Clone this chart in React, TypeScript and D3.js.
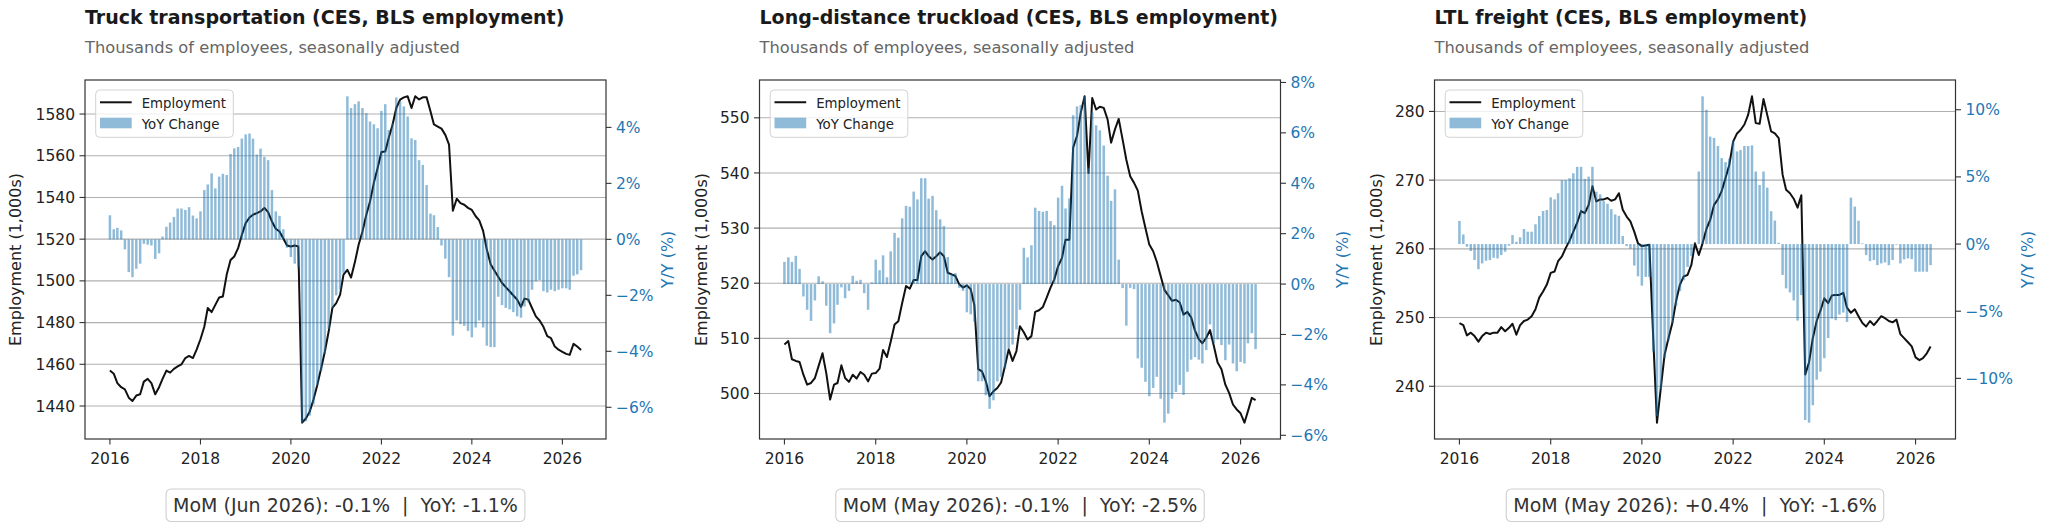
import { useEffect, useRef } from 'react'
import * as d3 from 'd3'

// monthly series, first point = Jan 2016
const START = new Date(2016, 0, 1)

const TRUCK_EMP = [
  1457, 1455.5, 1451, 1449, 1448, 1444, 1442.4, 1445, 1445.6, 1451.7, 1453, 1451,
  1445.6, 1449, 1453, 1457, 1456, 1457.8, 1459, 1460, 1463, 1464, 1463, 1467,
  1472, 1478, 1487, 1485, 1488.5, 1492, 1492.5, 1503, 1510, 1511.7, 1515.7, 1522,
  1527.7, 1530.4, 1531.7, 1532.5, 1533.3, 1535, 1533, 1528.5, 1525, 1523.7, 1520.3, 1517,
  1516.5, 1517, 1516.5, 1432, 1434, 1437.3, 1443, 1450, 1458, 1466, 1475.7, 1487,
  1489.3, 1493.3, 1503, 1505.3, 1501.6, 1509, 1517.3, 1523.7, 1531.7, 1538, 1547, 1554,
  1561.8, 1562, 1568.5, 1574.9, 1582.9, 1586.9, 1588, 1588.5, 1582.9, 1588.5, 1587, 1588,
  1588, 1581.3, 1575, 1574, 1573, 1570, 1565.3, 1533.6, 1539.4, 1537.3, 1536.5, 1535,
  1534, 1531, 1529, 1524, 1515, 1508, 1505, 1502, 1499, 1497, 1495, 1493,
  1491, 1487.5, 1491.5, 1491, 1487, 1483, 1481, 1478, 1473.5, 1472.5, 1468.5, 1467,
  1466, 1465, 1464.5, 1469.8, 1468.5, 1466.9,
]
const TRUCK_YOY = [
  0.86, 0.36, 0.41, 0.32, -0.36, -1.17, -1.35, -1.05, -0.87, -0.16, -0.19, -0.22,
  -0.7, -0.5, 0.1, 0.45, 0.6, 0.8, 1.1, 1.1, 1.05, 1.15, 0.85, 0.75,
  1.0, 1.76, 1.96, 2.36, 1.82, 2.24, 2.34, 2.3, 3.05, 3.25, 3.3, 3.6,
  3.75, 3.78, 3.6, 3.03, 3.24, 2.95, 2.83, 1.76, 1.0, 0.84, 0.36, -0.3,
  -0.63, -0.87, -1.0, -6.55, -6.5, -6.3, -5.9, -5.2, -4.7, -4.1, -3.2, -2.45,
  -2.0, -1.8, -1.2, 5.11, 4.69, 4.83, 4.93, 4.69, 4.51, 4.21, 4.11, 3.97,
  4.59, 4.83, 3.91, 4.15, 5.07, 4.93, 4.75, 4.39, 3.61, 3.55, 2.83, 2.66,
  1.94, 0.92, 0.86, 0.44, -0.22, -0.69, -1.35, -3.44, -2.9, -3.03, -3.09, -3.27,
  -3.5, -3.15, -2.9, -3.15, -3.8, -3.85, -3.85, -2.05, -2.35, -2.45, -2.5, -2.6,
  -2.75, -2.8, -2.4, -2.25, -1.8, -1.5, -1.45, -1.85, -1.9, -1.8, -1.85, -1.8,
  -1.75, -1.75, -1.8, -1.3, -1.25, -1.1,
]

const LONG_EMP = [
  508.9, 509.5, 506.2, 505.9, 505.7, 503.4, 501.6, 501.9, 502.8, 505, 507.3, 503.7,
  498.9, 501.6, 501.9, 505.1, 502.8, 502.1, 503.4, 502.7, 503.9, 503.4, 502.2, 503.6,
  503.7, 504.5, 507.9, 506.6, 509.4, 512.5, 513.1, 516.4, 519.5, 519, 520.6, 520.6,
  524.9, 525.8, 524.9, 524.3, 524.9, 525.6, 524.9, 521.9, 521.6, 521.3, 519.8, 519.2,
  519.6, 518.9, 516, 504.4, 504, 502.2, 499.5, 500.4, 501, 502, 505, 508,
  505.9, 507.7, 512.2, 511.1, 509.8, 510.4, 514.8, 515.1, 515.7, 517.4, 519.2, 520.7,
  523.1, 524.6, 527.9, 527.9, 544.6, 546.7, 550.9, 553.9, 540, 553.6, 551.5, 552,
  551.8, 549.7, 545.5, 547.9, 549.8, 546.1, 542.4, 539.4, 538.2, 536.8, 533, 530,
  527, 525.8, 523.9, 521.3, 518.8, 517.8, 516.8, 517, 516.5, 514.3, 514.8, 513.8,
  511.4, 509.8, 509.1, 510.1, 511.5, 508.6, 505.6, 504.4, 501.6, 500.1, 498, 497.1,
  496.4, 494.7, 496.8, 499.2, 498.8,
]
const LONG_YOY = [
  0.88, 1.06, 0.88, 1.12, 0.6, -0.49, -1.02, -1.46, -0.65, 0.31, 0.11, -0.86,
  -1.95, -1.56, -0.82, -0.13, -0.56, -0.27, 0.33, 0.13, 0.17, -0.36, -1.02, 0.07,
  0.97, 0.55, 1.14, 0.27, 1.3, 2.03, 1.84, 2.61, 3.1, 3.07, 3.67, 3.36,
  4.2, 4.2, 3.39, 3.5, 2.93, 2.57, 2.3, 1.07, 0.4, 0.44, -0.15, -0.27,
  -1.12, -1.2, -1.49, -3.86, -3.86, -4.41, -4.95, -4.61, -3.86, -3.68, -3.35, -2.55,
  -2.4, -1.8, -1.02, 1.44, 1.06, 1.54, 3.03, 2.9, 2.87, 2.9, 2.5, 2.34,
  3.43, 3.9, 3.0, 3.4, 6.7, 7.05, 7.1, 7.45, 4.6, 6.8, 6.3, 6.1,
  5.5, 4.3, 3.3, 3.76, 0.97, -0.16, -1.65, -0.15, -0.2, -2.95, -3.32, -3.88,
  -4.45, -4.12, -3.68, -4.55, -5.5, -5.14, -4.55, -4.28, -4.0, -4.4, -3.48, -3.0,
  -2.9, -3.0, -3.15, -2.62, -1.6, -2.35, -2.2, -2.42, -3.02, -2.4, -3.15, -3.46,
  -3.09, -3.15, -2.35, -1.95, -2.58,
]

const LTL_EMP = [
  249.2, 248.9, 247.4, 247.8, 247.3, 246.5, 247.3, 247.8, 247.6, 247.8, 247.8, 248.6,
  248, 248.5, 249.1, 247.5, 248.9, 249.5, 249.7, 250.2, 251.2, 252.9, 253.8, 254.8,
  256.5, 256.7, 258.2, 258.9, 260.1, 261.2, 262.5, 263.8, 265.5, 265.2, 266.4, 269.1,
  266.9, 267.2, 267.2, 267.4, 267, 267.2, 268.1, 265.7, 264.7, 264, 262.5, 260.8,
  260.4, 260.5, 260.6, 247, 234.7, 239.8, 244.6, 247, 249.2, 252.4, 254.8, 256,
  256.2, 257.7, 260.8, 259.1, 260.8, 262.9, 264.2, 266.4, 267.2, 268.4, 270.3, 272.2,
  275.6, 276.8, 277.3, 278.1, 279.5, 282.2, 278.3, 278.2, 281.8, 279.5, 277.1, 276.8,
  276.1, 270.8, 268.6, 268.1, 267.3, 266, 267.8, 241.7, 243.5, 247, 249.5, 251,
  252.8, 252.1, 253.2, 253.3, 253.3, 253.6, 251.4, 250.7, 251.2, 250.2, 249.2, 248.7,
  249.5, 248.9, 249.5, 250.2, 249.9, 249.5, 249.3, 249.7, 247.6, 247, 246.4, 245.8,
  244.2, 243.8, 244.1, 244.8, 245.8,
]
const LTL_YOY = [
  1.72, 0.72, -0.2, -0.52, -1.19, -1.87, -1.44, -1.24, -1.19, -1.02, -1.07, -0.82,
  -0.57, -0.12, 0.67, 0.17, 0.5, 1.12, 0.92, 0.92, 1.47, 2.09, 2.46, 2.54,
  3.48, 3.33, 3.78, 4.75, 4.75, 4.9, 5.27, 5.75, 5.75, 4.85, 5.02, 5.75,
  3.9, 3.7, 3.2, 3.0, 2.6, 2.2, 2.1, 0.6, -0.15, -0.35, -1.6, -2.4,
  -3.1, -2.45, -2.45, -8.0, -12.8, -10.8, -8.5, -7.2, -5.9, -4.6, -3.5, -2.7,
  -1.7, -0.9, 0.05, 5.4, 11.0, 10.0, 8.0, 7.9, 7.3, 6.4, 6.1, 6.35,
  7.7, 6.9, 7.0, 7.3, 7.3, 7.35, 5.4, 4.4, 5.4, 4.2, 2.45, 1.75,
  0.1, -2.3, -3.3, -3.6, -4.2, -5.7, -3.8, -13.1, -13.3, -12.0, -10.1, -9.5,
  -8.5, -7.0, -5.55, -5.67, -5.25, -5.1, -5.8, 3.46, 2.79, 1.74, 0.05, -0.82,
  -1.27, -1.19, -1.57, -1.44, -1.37, -1.57, -1.19, -0.05, -1.44, -1.14, -1.07, -1.12,
  -2.06, -2.06, -2.06, -2.06, -1.57,
]

const YEAR_TICKS = [2016, 2018, 2020, 2022, 2024, 2026]
const TRUCK_LEFT_TICKS = [1440, 1460, 1480, 1500, 1520, 1540, 1560, 1580]
const TRUCK_RIGHT_TICKS = [-6, -4, -2, 0, 2, 4]
const LONG_LEFT_TICKS = [500, 510, 520, 530, 540, 550]
const LONG_RIGHT_TICKS = [-6, -4, -2, 0, 2, 4, 6, 8]
const LTL_LEFT_TICKS = [240, 250, 260, 270, 280]
const LTL_RIGHT_TICKS = [-10, -5, 0, 5, 10]

const PANELS = [
  {
    title: 'Truck transportation (CES, BLS employment)',
    emp: TRUCK_EMP, yoy: TRUCK_YOY,
    leftTicks: TRUCK_LEFT_TICKS, rightTicks: TRUCK_RIGHT_TICKS,
    note: 'MoM (Jun 2026): -0.1%  |  YoY: -1.1%',
    ox: 0, ylabOff: 64, y2labOff: 67,
  },
  {
    title: 'Long-distance truckload (CES, BLS employment)',
    emp: LONG_EMP, yoy: LONG_YOY,
    leftTicks: LONG_LEFT_TICKS, rightTicks: LONG_RIGHT_TICKS,
    note: 'MoM (May 2026): -0.1%  |  YoY: -2.5%',
    ox: 674.5, ylabOff: 52.5, y2labOff: 67,
  },
  {
    title: 'LTL freight (CES, BLS employment)',
    emp: LTL_EMP, yoy: LTL_YOY,
    leftTicks: LTL_LEFT_TICKS, rightTicks: LTL_RIGHT_TICKS,
    note: 'MoM (May 2026): +0.4%  |  YoY: -1.6%',
    ox: 1349.5, ylabOff: 52.5, y2labOff: 77,
  },
]

const W = 2048
const H = 526
const FONT = "'DejaVu Sans', sans-serif"
const BLUE = '#1f77b4'
const PLOT = { left: 85, right: 606, top: 80, bottom: 439 }

const pct = (t: number) => (t < 0 ? `\u2212${-t}%` : `${t}%`)

export default function App() {
  const svgRef = useRef<SVGSVGElement>(null)

  useEffect(() => {
    if (!svgRef.current) return
    const svg = d3.select(svgRef.current)
    svg.selectAll('*').remove()

    svg.append('rect').attr('width', W).attr('height', H).attr('fill', '#fff')

    PANELS.forEach(p => {
      const g = svg.append('g').attr('transform', `translate(${p.ox},0)`)
      const dates = p.emp.map((_, i) => d3.timeMonth.offset(START, i))

      // x domain like matplotlib: data (incl. bar width) + 5% margins
      const lo = +d3.timeDay.offset(dates[0], -10)
      const hi = +d3.timeDay.offset(dates[dates.length - 1], 10)
      const pad = (hi - lo) * 0.05
      const x = d3.scaleTime()
        .domain([new Date(lo - pad), new Date(hi + pad)])
        .range([PLOT.left, PLOT.right])

      const [eMin, eMax] = d3.extent(p.emp) as [number, number]
      const ePad = (eMax - eMin) * 0.05
      const yL = d3.scaleLinear().domain([eMin - ePad, eMax + ePad]).range([PLOT.bottom, PLOT.top])

      const rMin = Math.min(0, d3.min(p.yoy) as number)
      const rMax = Math.max(0, d3.max(p.yoy) as number)
      const rPad = (rMax - rMin) * 0.05
      const yR = d3.scaleLinear().domain([rMin - rPad, rMax + rPad]).range([PLOT.bottom, PLOT.top])

      // titles
      g.append('text')
        .attr('x', PLOT.left).attr('y', 24)
        .attr('font-size', 19).attr('font-weight', 'bold').attr('fill', '#1a1a1a')
        .text(p.title)
      g.append('text')
        .attr('x', PLOT.left).attr('y', 53)
        .attr('font-size', 16.3).attr('fill', '#666')
        .text('Thousands of employees, seasonally adjusted')

      // grid (left axis)
      g.append('g').selectAll('line')
        .data(p.leftTicks)
        .enter().append('line')
        .attr('x1', PLOT.left).attr('x2', PLOT.right)
        .attr('y1', d => yL(d)).attr('y2', d => yL(d))
        .attr('stroke', '#b0b0b0').attr('stroke-width', 1.1)

      // employment line
      const line = d3.line<number>()
        .x((_, i) => x(dates[i]))
        .y(d => yL(d))
      g.append('path')
        .attr('d', line(p.emp))
        .attr('fill', 'none')
        .attr('stroke', '#111')
        .attr('stroke-width', 2)
        .attr('stroke-linejoin', 'round')

      // yoy bars (twin axis, drawn on top)
      const bw = x(d3.timeDay.offset(dates[0], 20)) - x(dates[0])
      g.append('g').selectAll('rect')
        .data(p.yoy)
        .enter().append('rect')
        .attr('x', (_, i) => x(dates[i]) - bw / 2)
        .attr('width', bw)
        .attr('y', d => yR(Math.max(0, d)))
        .attr('height', d => Math.abs(yR(d) - yR(0)))
        .attr('fill', BLUE)
        .attr('fill-opacity', 0.5)

      // spines
      g.append('rect')
        .attr('x', PLOT.left).attr('y', PLOT.top)
        .attr('width', PLOT.right - PLOT.left).attr('height', PLOT.bottom - PLOT.top)
        .attr('fill', 'none').attr('stroke', '#333').attr('stroke-width', 1.2)

      // left axis
      const la = g.append('g')
      p.leftTicks.forEach(t => {
        la.append('line').attr('x1', PLOT.left - 5.5).attr('x2', PLOT.left)
          .attr('y1', yL(t)).attr('y2', yL(t)).attr('stroke', '#333').attr('stroke-width', 1.1)
        la.append('text').attr('x', PLOT.left - 10).attr('y', yL(t)).attr('dy', '0.36em')
          .attr('text-anchor', 'end').attr('font-size', 15.5).attr('fill', '#222')
          .text(String(t))
      })

      // right axis
      const ra = g.append('g')
      p.rightTicks.forEach(t => {
        ra.append('line').attr('x1', PLOT.right).attr('x2', PLOT.right + 5.5)
          .attr('y1', yR(t)).attr('y2', yR(t)).attr('stroke', '#333').attr('stroke-width', 1.1)
        ra.append('text').attr('x', PLOT.right + 10).attr('y', yR(t)).attr('dy', '0.36em')
          .attr('font-size', 15.5).attr('fill', BLUE)
          .text(pct(t))
      })

      // x axis
      const xa = g.append('g')
      YEAR_TICKS.forEach(yr => {
        const px = x(new Date(yr, 0, 1))
        xa.append('line').attr('x1', px).attr('x2', px)
          .attr('y1', PLOT.bottom).attr('y2', PLOT.bottom + 5.5)
          .attr('stroke', '#333').attr('stroke-width', 1.1)
        xa.append('text').attr('x', px).attr('y', 463.5)
          .attr('text-anchor', 'middle').attr('font-size', 15.5).attr('fill', '#222')
          .text(String(yr))
      })

      // axis labels
      const midY = (PLOT.top + PLOT.bottom) / 2
      g.append('text')
        .attr('transform', `translate(${PLOT.left - p.ylabOff},${midY}) rotate(-90)`)
        .attr('text-anchor', 'middle').attr('font-size', 16).attr('fill', '#222')
        .text('Employment (1,000s)')
      g.append('text')
        .attr('transform', `translate(${PLOT.right + p.y2labOff},${midY}) rotate(-90)`)
        .attr('text-anchor', 'middle').attr('font-size', 16).attr('fill', BLUE)
        .text('Y/Y (%)')

      // legend
      const lg = g.append('g').attr('transform', `translate(${PLOT.left},0)`)
      lg.append('rect')
        .attr('x', 10.7).attr('y', 90).attr('width', 137.6).attr('height', 47.3).attr('rx', 4)
        .attr('fill', '#fff').attr('fill-opacity', 0.8)
        .attr('stroke', '#d3d3d3').attr('stroke-width', 1)
      lg.append('line')
        .attr('x1', 15).attr('x2', 46.7).attr('y1', 102.3).attr('y2', 102.3)
        .attr('stroke', '#111').attr('stroke-width', 2)
      lg.append('text').attr('x', 56.7).attr('y', 107.5)
        .attr('font-size', 13.3).attr('fill', '#222').text('Employment')
      lg.append('rect')
        .attr('x', 15).attr('y', 117.7).attr('width', 31.7).attr('height', 10.6)
        .attr('fill', BLUE).attr('fill-opacity', 0.5)
      lg.append('text').attr('x', 56.7).attr('y', 129)
        .attr('font-size', 13.3).attr('fill', '#222').text('YoY Change')

      // MoM / YoY note box
      const cx = (PLOT.left + PLOT.right) / 2
      const nb = g.append('g')
      const box = nb.append('rect')
      const nt = nb.append('text')
        .attr('x', cx).attr('y', 511.5)
        .attr('text-anchor', 'middle').attr('font-size', 19).attr('fill', '#333')
        .style('white-space', 'pre')
        .text(p.note)
      const tw = (nt.node() as SVGTextElement).getComputedTextLength()
      box.attr('x', cx - tw / 2 - 7).attr('y', 489).attr('width', tw + 14).attr('height', 32.5)
        .attr('rx', 5).attr('fill', '#fff').attr('stroke', '#cfcfcf').attr('stroke-width', 1.1)
    })
  }, [])

  return (
    <svg
      ref={svgRef}
      width={W}
      height={H}
      style={{ position: 'absolute', left: 0, top: 0, display: 'block', fontFamily: FONT }}
    />
  )
}
